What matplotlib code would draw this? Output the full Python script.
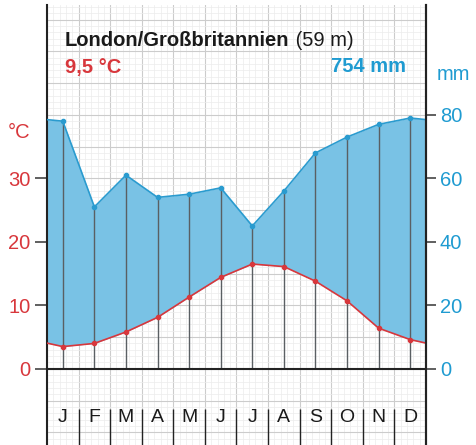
import numpy as np
import matplotlib
matplotlib.use("Agg")
import matplotlib.pyplot as plt

plt.rcParams['font.family'] = ['Liberation Sans', 'DejaVu Sans']

# London climate data
months = ["J", "F", "M", "A", "M", "J", "J", "A", "S", "O", "N", "D"]
temp_c = [3.5, 4.0, 5.8, 8.1, 11.3, 14.4, 16.5, 16.1, 13.8, 10.7, 6.4, 4.6]
precip_mm = [78, 51, 61, 54, 55, 57, 45, 56, 68, 73, 77, 79]
temp_ticks = [0, 10, 20, 30]
mm_ticks = [0, 20, 40, 60, 80]

RED = "#d8373c"
BLUE = "#1f9bd1"
FILL = "#79c2e5"
LINEBLUE = "#2a9bcf"

fig = plt.figure(figsize=(4.76, 4.45), dpi=100)
fig.patch.set_facecolor("white")
ax = fig.add_axes([47 / 476, 0, 379 / 476, 440 / 445])
ymin, ymax = -12.0, 57.3
ax.set_xlim(0, 12)
ax.set_ylim(ymin, ymax)

# fine paper grid
for x in np.arange(0, 12.01, 0.2):
    major = abs(x - round(x)) < 1e-6
    ax.axvline(x, color="#cccccc" if major else "#ececec", lw=0.8 if major else 0.5, zorder=0)
for y in np.arange(-12, 58, 1):
    major = y % 5 == 0
    ax.axhline(y, color="#cccccc" if major else "#ececec", lw=0.8 if major else 0.5, zorder=0)

# month centres plus wrap-around edges
xc = np.arange(12) + 0.5
t = np.array(temp_c)
p = np.array(precip_mm) / 2.0   # 20 mm = 10 °C
x_full = np.concatenate([[0], xc, [12]])
t_full = np.concatenate([[(t[0] + t[-1]) / 2], t, [(t[0] + t[-1]) / 2]])
p_full = np.concatenate([[(p[0] + p[-1]) / 2], p, [(p[0] + p[-1]) / 2]])

ax.fill_between(x_full, t_full, p_full, where=p_full >= t_full, color=FILL, lw=0, zorder=1)
ax.vlines(xc, 0, np.maximum(p, t), color="#5a5f63", lw=1.0, zorder=2)
ax.plot(x_full, p_full, color=LINEBLUE, lw=1.2, zorder=3)
ax.plot(xc, p, "o", color=LINEBLUE, ms=3, zorder=4)
ax.plot(x_full, t_full, color=RED, lw=1.2, zorder=3)
ax.plot(xc, t, "o", color=RED, ms=3, zorder=4)

# zero line and month labels
ax.axhline(0, color="#222222", lw=1.5, zorder=5)
ax.vlines(np.arange(1, 12), -6.3, ymin, color="#222222", lw=1.0, zorder=5)
for x, m in zip(xc, months):
    ax.text(x, -7.6, m, ha="center", va="center", fontsize=14, color="#1a1a1a")

for s in ["top", "bottom"]:
    ax.spines[s].set_visible(False)
for s in ["left", "right"]:
    ax.spines[s].set_linewidth(1.5)
    ax.spines[s].set_color("#222222")

ax.set_xticks([])
ax.set_yticks(temp_ticks)
ax.tick_params(axis="y", colors="#444444", length=9, width=1.2, labelsize=14.5,
               labelcolor=RED, pad=3)

ax2 = ax.twinx()
ax2.set_ylim(ymin * 2, ymax * 2)
ax2.set_yticks(mm_ticks)
ax2.tick_params(axis="y", colors="#444444", length=7, width=1.2, labelsize=14.5,
                labelcolor=BLUE, pad=3)
for s in ["top", "bottom", "left"]:
    ax2.spines[s].set_visible(False)
ax2.spines["right"].set_linewidth(1.5)
ax2.spines["right"].set_color("#222222")

# header texts
title = fig.text(65 / 476, 1 - 40 / 445, "London/Großbritannien", fontsize=14.5,
                 fontweight="bold", color="#1a1a1a", va="center", ha="left")
ax.annotate(" (59 m)", xycoords=title, xy=(1, 0), va="bottom", ha="left",
            fontsize=14.5, color="#1a1a1a")
fig.text(65 / 476, 1 - 67 / 445, "9,5 °C", fontsize=14.5, fontweight="bold",
         color=RED, va="center", ha="left")
fig.text(406 / 476, 1 - 66 / 445, "754 mm", fontsize=14.5, fontweight="bold",
         color=BLUE, va="center", ha="right")
fig.text(437 / 476, 1 - 74 / 445, "mm", fontsize=14.5, color=BLUE, va="center", ha="left")
fig.text(8 / 476, 1 - 133 / 445, "°C", fontsize=14.5, color=RED, va="center", ha="left")

fig.savefig("out.png", dpi=100, facecolor="white")
